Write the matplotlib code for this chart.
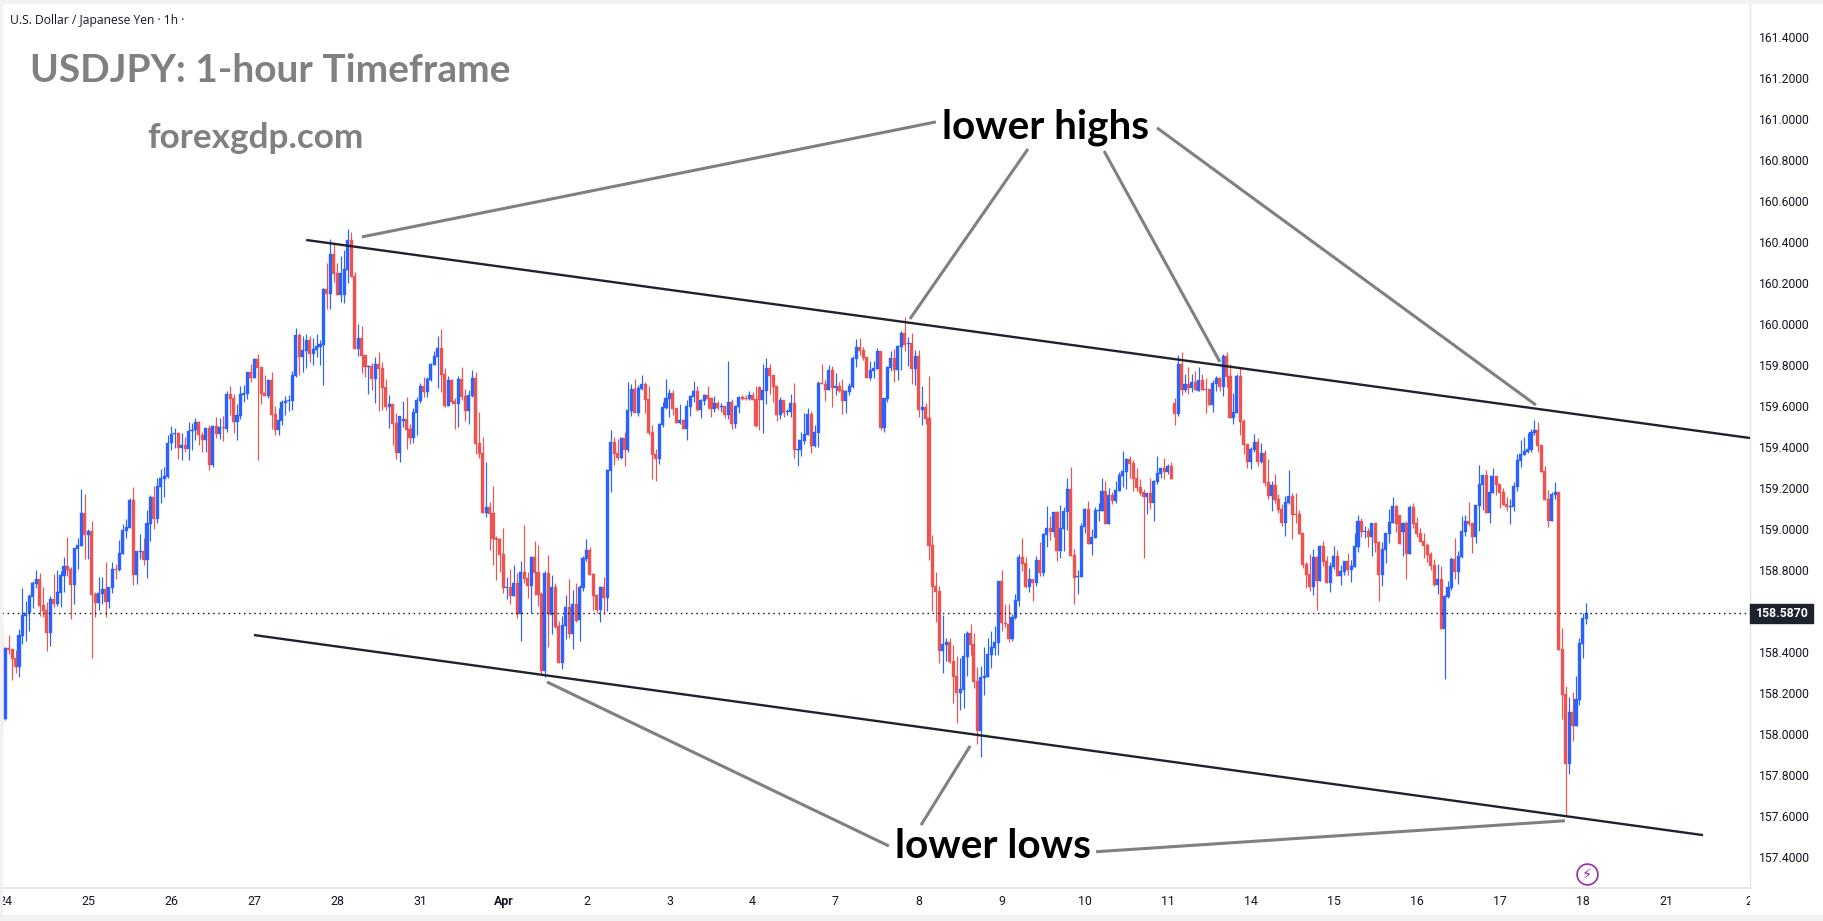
import matplotlib
matplotlib.use("Agg")
import matplotlib.pyplot as plt
from matplotlib.patches import Rectangle
from matplotlib.transforms import Bbox

OPEN = [
 158.449,158.071,158.416,158.411,158.369,158.327,158.476,158.574,158.587,158.666,
 158.730,158.754,158.627,158.603,158.491,158.657,158.632,158.686,158.769,158.818,
 158.803,158.725,158.901,158.915,159.076,158.969,158.988,158.681,158.637,158.681,
 158.706,158.642,158.710,158.803,158.798,158.876,158.988,159.003,159.140,158.774,
 158.886,158.891,158.847,159.023,159.154,159.047,159.203,159.242,159.253,159.416,
 159.462,159.465,159.392,159.408,159.389,159.476,159.481,159.522,159.457,159.433,
 159.491,159.311,159.501,159.462,159.496,159.486,159.657,159.638,159.521,159.550,
 159.652,159.657,159.765,159.735,159.828,159.789,159.662,159.647,159.725,159.560,
 159.482,159.525,159.613,159.623,159.623,159.745,159.945,159.838,159.867,159.921,
 159.852,159.872,159.886,159.896,160.169,160.145,160.340,160.247,160.140,160.140,
 160.262,160.408,160.233,159.877,159.930,159.848,159.789,159.794,159.730,159.804,
 159.784,159.691,159.594,159.608,159.516,159.370,159.526,159.535,159.486,159.442,
 159.564,159.622,159.695,159.666,159.725,159.798,159.837,159.881,159.754,159.598,
 159.725,159.622,159.608,159.730,159.647,159.573,159.647,159.734,159.417,159.369,
 159.076,159.105,159.076,158.954,158.949,158.876,158.710,158.715,158.671,158.734,
 158.583,158.788,158.759,158.720,158.861,158.788,158.681,158.305,158.783,158.578,
 158.715,158.525,158.344,158.525,158.617,158.486,158.632,158.554,158.710,158.852,
 158.895,158.778,158.676,158.603,158.715,158.661,159.281,159.422,159.369,159.344,
 159.442,159.383,159.574,159.681,159.564,159.681,159.705,159.632,159.471,159.364,
 159.339,159.505,159.588,159.632,159.661,159.588,159.515,159.530,159.486,159.593,
 159.642,159.671,159.578,159.622,159.652,159.637,159.583,159.613,159.593,159.598,
 159.554,159.618,159.510,159.593,159.642,159.637,159.632,159.652,159.632,159.691,
 159.627,159.671,159.783,159.749,159.696,159.554,159.627,159.569,159.569,159.613,
 159.383,159.384,159.428,159.457,159.559,159.403,159.467,159.711,159.706,159.677,
 159.774,159.686,159.696,159.677,159.623,159.667,159.691,159.828,159.886,159.872,
 159.837,159.735,159.769,159.779,159.867,159.491,159.633,159.784,159.833,159.774,
 159.886,159.955,159.901,159.906,159.779,159.842,159.579,159.594,159.540,158.920,
 158.720,158.696,158.403,158.433,158.447,158.355,158.281,158.198,158.213,158.374,
 158.491,158.438,158.257,158.013,158.272,158.276,158.384,158.418,158.442,158.745,
 158.541,158.533,158.462,158.564,158.647,158.862,158.832,158.715,158.754,158.735,
 158.847,158.784,158.969,159.003,158.984,159.081,158.891,158.998,159.081,159.193,
 158.872,158.764,158.764,159.008,159.096,158.925,158.955,159.086,159.086,159.184,
 159.023,159.164,159.135,159.184,159.257,159.276,159.340,159.320,159.247,159.203,
 159.179,159.154,159.174,159.125,159.228,159.267,159.296,159.276,159.306,159.613,
 159.559,159.803,159.676,159.706,159.686,159.715,159.672,159.725,159.681,159.681,
 159.603,159.705,159.735,159.691,159.842,159.744,159.539,159.564,159.744,159.525,
 159.413,159.325,159.383,159.422,159.325,159.369,159.227,159.159,159.213,159.144,
 159.096,159.027,159.125,159.159,159.071,159.071,158.979,158.827,158.779,158.715,
 158.861,158.744,158.915,158.842,158.734,158.812,158.866,158.769,158.788,158.842,
 158.798,158.812,158.910,159.037,158.983,158.988,158.959,159.027,158.935,158.774,
 158.896,158.973,159.027,159.110,159.067,158.984,159.028,158.877,159.106,159.028,
 158.979,158.940,158.920,158.877,158.823,158.725,158.755,158.511,158.667,158.711,
 158.852,158.789,158.862,158.984,159.037,159.028,158.960,159.111,159.213,159.262,
 159.077,159.174,159.257,159.218,159.179,159.120,159.106,159.106,159.203,159.330,
 159.359,159.374,159.384,159.467,159.481,159.408,159.281,159.145,159.037,159.164,
 159.179,158.413,158.194,157.852,158.106,158.037,158.165,158.437,158.559,
]

CLOSE = [
 158.075,158.418,158.408,158.364,158.327,158.481,158.579,158.587,158.671,158.735,
 158.754,158.622,158.598,158.491,158.657,158.632,158.691,158.774,158.818,158.798,
 158.725,158.905,158.920,159.076,158.969,158.988,158.676,158.637,158.686,158.706,
 158.642,158.715,158.803,158.798,158.881,158.993,159.008,159.140,158.774,158.891,
 158.891,158.847,159.027,159.154,159.047,159.208,159.247,159.257,159.416,159.462,
 159.466,159.392,159.408,159.389,159.476,159.481,159.522,159.457,159.433,159.491,
 159.311,159.501,159.462,159.496,159.491,159.657,159.633,159.521,159.555,159.657,
 159.662,159.765,159.735,159.828,159.784,159.657,159.647,159.725,159.555,159.482,
 159.530,159.618,159.623,159.628,159.750,159.945,159.838,159.872,159.921,159.852,
 159.877,159.891,159.901,160.169,160.145,160.340,160.243,160.140,160.247,160.267,
 160.408,160.228,159.877,159.930,159.843,159.789,159.794,159.730,159.804,159.779,
 159.686,159.594,159.608,159.511,159.369,159.549,159.535,159.481,159.442,159.569,
 159.627,159.695,159.666,159.730,159.803,159.842,159.881,159.749,159.598,159.725,
 159.617,159.608,159.730,159.642,159.573,159.651,159.734,159.413,159.364,159.076,
 159.105,159.071,158.949,158.944,158.871,158.710,158.715,158.671,158.734,158.583,
 158.788,158.754,158.720,158.861,158.783,158.676,158.305,158.783,158.583,158.715,
 158.520,158.344,158.530,158.617,158.486,158.632,158.549,158.715,158.857,158.895,
 158.774,158.671,158.603,158.715,158.661,159.286,159.422,159.364,159.344,159.442,
 159.383,159.579,159.681,159.564,159.686,159.705,159.627,159.466,159.359,159.339,
 159.510,159.593,159.637,159.661,159.583,159.515,159.530,159.486,159.598,159.647,
 159.671,159.578,159.627,159.652,159.632,159.583,159.613,159.588,159.598,159.554,
 159.618,159.510,159.598,159.642,159.632,159.632,159.652,159.627,159.500,159.627,
 159.676,159.783,159.744,159.691,159.554,159.627,159.564,159.574,159.613,159.383,
 159.388,159.433,159.462,159.559,159.403,159.472,159.711,159.706,159.677,159.774,
 159.686,159.696,159.672,159.623,159.672,159.696,159.833,159.886,159.867,159.833,
 159.735,159.774,159.784,159.867,159.491,159.637,159.789,159.833,159.774,159.891,
 159.955,159.896,159.906,159.779,159.842,159.579,159.594,159.535,158.915,158.716,
 158.691,158.403,158.438,158.447,158.350,158.277,158.198,158.218,158.379,158.491,
 158.433,158.252,158.013,158.276,158.281,158.389,158.423,158.447,158.745,158.541,
 158.533,158.462,158.570,158.652,158.862,158.828,158.715,158.754,158.735,158.847,
 158.784,158.974,159.003,158.984,159.081,158.891,159.003,159.086,159.193,158.867,
 158.759,158.769,159.013,159.096,158.925,158.959,159.091,159.091,159.184,159.023,
 159.164,159.135,159.189,159.262,159.281,159.340,159.315,159.242,159.198,159.174,
 159.154,159.174,159.125,159.232,159.271,159.296,159.276,159.306,159.242,159.559,
 159.803,159.676,159.706,159.686,159.715,159.676,159.725,159.676,159.676,159.603,
 159.710,159.735,159.691,159.842,159.739,159.539,159.569,159.744,159.520,159.408,
 159.325,159.388,159.422,159.325,159.369,159.222,159.159,159.213,159.139,159.091,
 159.027,159.130,159.159,159.066,159.066,158.974,158.822,158.774,158.715,158.861,
 158.744,158.915,158.837,158.734,158.817,158.866,158.769,158.793,158.842,158.798,
 158.817,158.915,159.037,158.983,158.988,158.959,159.027,158.930,158.774,158.900,
 158.978,159.032,159.110,159.022,158.925,159.028,158.877,159.106,159.023,158.974,
 158.935,158.916,158.872,158.818,158.725,158.755,158.511,158.672,158.716,158.852,
 158.789,158.867,158.989,159.037,159.023,158.960,159.115,159.218,159.262,159.077,
 159.179,159.257,159.213,159.174,159.116,159.106,159.111,159.208,159.335,159.364,
 159.379,159.389,159.472,159.481,159.403,159.277,159.140,159.037,159.169,159.179,
 158.408,158.189,157.852,158.106,158.037,158.169,158.442,158.564,158.587,
]

HIGH = [
 158.530,158.424,158.481,158.411,158.408,158.510,158.710,158.647,158.681,158.745,
 158.798,158.784,158.715,158.642,158.671,158.779,158.798,158.793,158.862,158.959,
 158.813,158.905,158.954,159.193,159.169,158.998,159.037,158.691,158.764,158.764,
 158.837,158.715,158.837,158.827,158.945,159.023,159.047,159.149,159.203,158.891,
 158.974,158.954,159.091,159.164,159.208,159.247,159.290,159.300,159.457,159.501,
 159.490,159.470,159.465,159.449,159.522,159.514,159.538,159.526,159.472,159.491,
 159.506,159.506,159.545,159.540,159.550,159.672,159.696,159.657,159.608,159.696,
 159.701,159.765,159.804,159.833,159.852,159.789,159.750,159.730,159.765,159.599,
 159.589,159.628,159.647,159.652,159.769,159.979,159.955,159.940,159.950,159.940,
 159.930,159.950,159.921,160.174,160.296,160.413,160.394,160.296,160.330,160.360,
 160.462,160.447,160.252,159.999,159.989,159.848,159.799,159.808,159.838,159.862,
 159.813,159.730,159.652,159.608,159.564,159.549,159.622,159.642,159.510,159.588,
 159.642,159.710,159.739,159.739,159.808,159.866,159.939,159.974,159.783,159.744,
 159.730,159.637,159.744,159.788,159.681,159.676,159.774,159.764,159.569,159.447,
 159.325,159.130,159.208,158.964,158.954,159.003,158.764,158.803,158.822,158.783,
 158.842,159.017,158.788,158.866,158.939,158.920,158.691,158.793,158.871,158.774,
 158.734,158.549,158.574,158.676,158.754,158.700,158.734,158.725,158.866,158.949,
 158.910,158.783,158.681,158.720,158.764,159.291,159.481,159.447,159.437,159.447,
 159.471,159.715,159.705,159.730,159.700,159.749,159.715,159.696,159.505,159.388,
 159.515,159.618,159.730,159.681,159.676,159.588,159.608,159.535,159.627,159.652,
 159.720,159.696,159.632,159.657,159.696,159.637,159.647,159.622,159.613,159.598,
 159.818,159.632,159.603,159.647,159.652,159.652,159.671,159.666,159.696,159.696,
 159.803,159.832,159.803,159.749,159.696,159.642,159.627,159.583,159.657,159.710,
 159.437,159.472,159.564,159.589,159.574,159.506,159.720,159.803,159.725,159.798,
 159.794,159.759,159.716,159.730,159.677,159.711,159.842,159.925,159.930,159.886,
 159.837,159.818,159.818,159.881,159.867,159.637,159.794,159.867,159.877,159.896,
 159.964,160.033,159.935,159.955,159.872,159.872,159.696,159.613,159.745,158.969,
 158.789,158.720,158.579,158.467,158.467,158.433,158.379,158.369,158.491,158.501,
 158.535,158.491,158.325,158.330,158.423,158.467,158.501,158.525,158.745,158.798,
 158.632,158.632,158.584,158.681,158.876,158.954,158.862,158.808,158.754,158.867,
 158.935,158.979,159.111,159.062,159.081,159.086,159.115,159.106,159.247,159.301,
 158.901,158.798,159.028,159.101,159.135,158.999,159.106,159.125,159.247,159.232,
 159.198,159.179,159.232,159.276,159.379,159.345,159.354,159.335,159.296,159.242,
 159.193,159.174,159.247,159.237,159.354,159.296,159.345,159.315,159.325,159.637,
 159.847,159.860,159.754,159.788,159.754,159.770,159.790,159.754,159.735,159.681,
 159.725,159.744,159.739,159.852,159.861,159.803,159.661,159.754,159.788,159.535,
 159.413,159.398,159.461,159.442,159.417,159.383,159.339,159.232,159.266,159.169,
 159.120,159.159,159.286,159.174,159.174,159.091,158.979,158.837,158.876,158.900,
 158.866,158.920,158.939,158.866,158.837,158.915,158.896,158.822,158.842,158.881,
 158.847,158.978,159.066,159.052,159.013,159.003,159.027,159.027,158.939,158.935,
 158.978,159.096,159.154,159.115,159.067,159.033,159.037,159.115,159.125,159.057,
 159.003,158.979,158.930,158.886,158.852,158.828,158.818,158.677,158.745,158.862,
 158.955,158.891,159.062,159.067,159.130,159.028,159.115,159.311,159.262,159.286,
 159.262,159.296,159.257,159.218,159.198,159.155,159.145,159.228,159.364,159.433,
 159.447,159.467,159.486,159.530,159.520,159.408,159.306,159.189,159.179,159.228,
 159.179,158.516,158.233,158.179,158.203,158.281,158.467,158.589,158.637,
]

LOW = [
 158.018,158.066,158.388,158.262,158.294,158.276,158.437,158.452,158.501,158.613,
 158.710,158.574,158.569,158.403,158.427,158.618,158.622,158.618,158.691,158.769,
 158.559,158.632,158.803,158.915,158.852,158.852,158.369,158.569,158.603,158.632,
 158.569,158.613,158.686,158.754,158.793,158.876,158.954,159.003,158.725,158.730,
 158.852,158.823,158.759,158.940,158.998,159.027,159.125,159.154,159.245,159.384,
 159.392,159.338,159.335,159.376,159.335,159.384,159.432,159.410,159.374,159.374,
 159.286,159.301,159.443,159.438,159.428,159.472,159.555,159.467,159.433,159.535,
 159.618,159.633,159.716,159.735,159.335,159.608,159.647,159.638,159.486,159.457,
 159.457,159.506,159.555,159.574,159.579,159.740,159.750,159.765,159.784,159.813,
 159.799,159.838,159.799,159.701,160.072,160.072,160.204,160.140,160.106,160.101,
 160.199,160.228,159.877,159.843,159.760,159.740,159.657,159.677,159.613,159.574,
 159.579,159.579,159.491,159.408,159.340,159.325,159.495,159.388,159.413,159.417,
 159.456,159.613,159.642,159.642,159.720,159.798,159.686,159.666,159.593,159.598,
 159.608,159.486,159.495,159.627,159.525,159.510,159.642,159.364,159.344,159.076,
 159.056,158.895,158.822,158.749,158.788,158.686,158.656,158.632,158.671,158.564,
 158.452,158.734,158.661,158.588,158.676,158.622,158.291,158.276,158.422,158.486,
 158.515,158.344,158.315,158.461,158.466,158.413,158.544,158.452,158.696,158.842,
 158.774,158.603,158.588,158.546,158.583,158.598,159.179,159.310,159.335,159.339,
 159.305,159.374,159.549,159.564,159.549,159.676,159.564,159.456,159.242,159.232,
 159.315,159.496,159.583,159.544,159.554,159.515,159.510,159.486,159.432,159.549,
 159.618,159.574,159.539,159.603,159.588,159.544,159.569,159.578,159.569,159.539,
 159.535,159.486,159.491,159.564,159.627,159.627,159.627,159.627,159.496,159.481,
 159.466,159.608,159.657,159.618,159.525,159.535,159.544,159.554,159.544,159.344,
 159.305,159.355,159.413,159.457,159.369,159.398,159.398,159.706,159.623,159.677,
 159.594,159.652,159.667,159.559,159.564,159.652,159.686,159.789,159.847,159.823,
 159.735,159.725,159.735,159.779,159.481,159.472,159.618,159.769,159.716,159.725,
 159.774,159.867,159.794,159.706,159.701,159.545,159.506,159.511,158.847,158.598,
 158.545,158.345,158.296,158.355,158.345,158.150,158.052,158.116,158.125,158.281,
 158.384,158.223,157.950,157.886,158.189,158.276,158.320,158.384,158.384,158.500,
 158.518,158.448,158.452,158.559,158.623,158.794,158.711,158.691,158.647,158.720,
 158.769,158.769,158.910,158.945,158.959,158.842,158.857,158.891,158.994,158.867,
 158.633,158.681,158.764,158.979,158.925,158.872,158.955,159.037,159.086,159.023,
 159.023,159.120,159.125,159.184,159.203,159.193,159.247,159.184,159.184,159.164,
 158.857,159.071,159.096,159.037,159.218,159.247,159.242,159.267,159.242,159.506,
 159.550,159.652,159.667,159.657,159.667,159.676,159.672,159.676,159.564,159.603,
 159.569,159.671,159.671,159.647,159.691,159.539,159.510,159.564,159.456,159.364,
 159.296,159.291,159.374,159.305,159.320,159.208,159.144,159.086,159.125,159.076,
 159.013,158.964,159.120,158.949,159.027,158.974,158.808,158.710,158.696,158.676,
 158.603,158.744,158.817,158.734,158.691,158.803,158.769,158.725,158.774,158.774,
 158.739,158.812,158.886,158.959,158.954,158.910,158.866,158.886,158.647,158.720,
 158.832,158.930,159.027,158.983,158.925,158.867,158.755,158.877,159.003,158.959,
 158.935,158.857,158.838,158.799,158.720,158.681,158.511,158.267,158.662,158.701,
 158.755,158.730,158.857,158.964,159.013,158.881,158.930,158.989,159.091,159.077,
 159.028,159.174,159.164,159.101,159.116,159.086,159.023,159.086,159.184,159.301,
 159.359,159.369,159.374,159.457,159.374,159.277,159.140,159.008,159.037,159.145,
 158.408,158.072,157.598,157.803,157.964,158.037,158.140,158.369,158.535,
]

LAST_PRICE = 158.587
PRICE_TICKS = [157.4, 157.6, 157.8, 158.0, 158.2, 158.4, 158.8, 159.0, 159.2, 159.4,
               159.6, 159.8, 160.0, 160.2, 160.4, 160.6, 160.8, 161.0, 161.2, 161.4]
DAY_BARS = [1, 25, 49, 73, 97, 121, 145, 169, 193, 217, 241, 265, 289, 313, 337, 361, 385, 409, 433, 457, 481, 505]
DAY_LABELS = ["24", "25", "26", "27", "28", "31", "Apr", "2", "3", "4", "7", "8", "9", "10", "11", "14", "15",
              "16", "17", "18", "21", "2"]

# channel boundaries as (bar index, price) end points
UPPER_CHANNEL = ([88.0, 505.3], [160.408, 159.442])
LOWER_CHANNEL = ([72.9, 491.7], [158.481, 157.505])

# pointers from the captions to the swing points
POINTERS = [
    ([104.1, 270.0], [160.423, 160.984]),
    ([262.5, 296.6], [160.023, 160.852]),
    ([352.1, 318.6], [159.813, 160.842]),
    ([443.4, 333.9], [159.603, 160.955]),
    ([157.6, 256.4], [158.252, 157.452]),
    ([265.7, 279.9], [157.554, 157.940]),
    ([316.3, 451.8], [157.424, 157.575]),
]

BLUE = "#2962FF"
RED = "#EF5350"
BORDER = "#F2F2F2"
AXIS_LINE = "#E0E3EB"
CAPTION_GREY = "#808080"
TEXT = "#131722"
LIGHTNING = "#9C27B0"

W, H = 1823, 921
LEFT, RIGHT, TOP, BOTTOM = 1.5, 1750, 3, 888

fig = plt.figure(figsize=(W / 100, H / 100), dpi=100, facecolor="white")
ax = fig.add_axes([LEFT / W, 1 - BOTTOM / H, (RIGHT - LEFT) / W, (BOTTOM - TOP) / H])
ax.set_facecolor("white")

BAR_STEP = 3.46
FIRST_BAR_PX = 1.7
PX_PER_PRICE = 205.0
LAST_PRICE_PX = 613.3
ax.set_xlim((LEFT - FIRST_BAR_PX) / BAR_STEP, (RIGHT - FIRST_BAR_PX) / BAR_STEP)
ax.set_ylim(LAST_PRICE + (LAST_PRICE_PX - BOTTOM) / PX_PER_PRICE,
            LAST_PRICE + (LAST_PRICE_PX - TOP) / PX_PER_PRICE)

bars = list(range(len(CLOSE)))
colors = [BLUE if c >= o else RED for o, c in zip(OPEN, CLOSE)]

ax.vlines(bars, LOW, HIGH, colors=colors, linewidth=0.85, zorder=2)
ax.bar(bars, [abs(c - o) for o, c in zip(OPEN, CLOSE)], bottom=[min(o, c) for o, c in zip(OPEN, CLOSE)],
       width=0.88, color=colors, edgecolor=colors, linewidth=0.25, zorder=3)

ax.axhline(LAST_PRICE, color="#1a1a1a", linewidth=1.0, linestyle=(0, (1.1, 2.6)), zorder=4)

ax.plot(*UPPER_CHANNEL, color="#1E222D", linewidth=1.7, zorder=5, solid_capstyle="butt")
ax.plot(*LOWER_CHANNEL, color="#1E222D", linewidth=1.7, zorder=5, solid_capstyle="butt")
for xs, ys in POINTERS:
    ax.plot(xs, ys, color=CAPTION_GREY, linewidth=2.2, zorder=5, solid_capstyle="butt")

for side in ("top", "left"):
    ax.spines[side].set_visible(False)
ax.spines["right"].set_color(AXIS_LINE)
ax.spines["bottom"].set_color(AXIS_LINE)
ax.spines["right"].set_linewidth(1.0)
ax.spines["bottom"].set_linewidth(1.3)

ax.yaxis.tick_right()
ax.set_yticks(PRICE_TICKS, [f"{p:.4f}" for p in PRICE_TICKS])
ax.tick_params(axis="y", length=0, pad=6.6, labelsize=8.7, labelcolor=TEXT)
ax.set_xticks(DAY_BARS, DAY_LABELS)
ax.tick_params(axis="x", length=0, pad=5.0, labelsize=8.9, labelcolor=TEXT)
for lab in ax.get_yticklabels() + ax.get_xticklabels():
    lab.set_fontfamily("Roboto")
# tick labels at the ends of the time scale are cut by the pane edges
clip = Bbox([[2, 0], [RIGHT, H]])
for lab in ax.get_xticklabels():
    lab.set_clip_on(True)
    lab.set_clip_box(clip)
    if lab.get_text() == "Apr":
        lab.set_fontweight("bold")


def px(x, y):
    return x / W, 1 - y / H


# frame strips round the pane
fig.patches.extend([
    Rectangle((0, 0), 2 / W, 1, transform=fig.transFigure, color=BORDER, zorder=10),
    Rectangle((0, 1 - 3 / H), 1, 3 / H, transform=fig.transFigure, color=BORDER, zorder=10),
    Rectangle((0, 0), 1, 6 / H, transform=fig.transFigure, color=BORDER, zorder=10),
])

# last price tag on the price scale
tag = Rectangle(px(1750, 622.5), 63 / W, 19 / H, transform=fig.transFigure, color="#1E222D", zorder=11)
fig.patches.append(tag)
fig.text(*px(1782, 613.3), f"{LAST_PRICE:.3f}0", color="white", fontsize=8.8, fontweight="bold",
         family="Roboto", ha="center", va="center", zorder=12)

fig.text(*px(10, 20.5), "U.S. Dollar / Japanese Yen · 1h ·", color=TEXT, fontsize=8.7, family="Open Sans",
         ha="left", va="center")
fig.text(*px(30, 71), "USDJPY: 1-hour Timeframe", color=CAPTION_GREY, fontsize=28, fontweight="bold",
         family="Lato", ha="left", va="center")
fig.text(*px(147, 138), "forexgdp.com", color=CAPTION_GREY, fontsize=25.3, fontweight="bold",
         family="Lato", ha="left", va="center")
fig.text(*px(942, 127), "lower highs", color="black", fontsize=29.1, fontweight="bold",
         family="Lato", ha="left", va="center")
fig.text(*px(895, 846), "lower lows", color="black", fontsize=29.2, fontweight="bold",
         family="Lato", ha="left", va="center")

# data-update marker under the last bar
ax.scatter([458.2], [157.315], s=225, facecolor="white", edgecolor=LIGHTNING, linewidth=1.2, zorder=6)
ax.text(458.2, 157.315, "\u26A1", color=LIGHTNING, fontsize=10.5, family="DejaVu Sans", ha="center", va="center",
        zorder=7)

fig.savefig("out.png", dpi=100, facecolor="white")
